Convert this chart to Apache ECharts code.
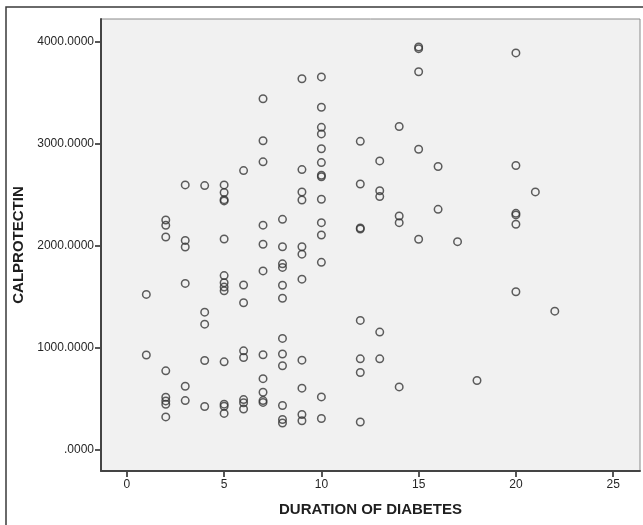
<!DOCTYPE html>
<html>
<head>
<meta charset="utf-8">
<script src="https://cdn.jsdelivr.net/npm/echarts@6/dist/echarts.min.js"></script>
<style>
html,body{margin:0;padding:0;background:#fff;}
#chart{width:643px;height:525px;}
</style>
</head>
<body>
<div id="chart"></div>
<script>
// Duration of diabetes (years) and the calprotectin values observed at each duration
const durationYears = [1, 2, 3, 4, 5, 6, 7, 8, 9, 10, 12, 13, 14, 15, 16, 17, 18, 20, 21, 22];
const calprotectinByDuration = [
  [1520, 925],
  [2250, 2198, 2084, 770, 511, 475, 442, 318],
  [2595, 2050, 1985, 1628, 619, 478],
  [2588, 1346, 1228, 872, 420],
  [2595, 2520, 2450, 2438, 2064, 1705, 1635, 1592, 1555, 858, 443, 423, 352],
  [2735, 1612, 1438, 966, 901, 488, 457, 396],
  [3440, 3028, 2821, 2200, 2012, 1751, 928, 693, 560, 478, 460],
  [2257, 1988, 1820, 1785, 1610, 1482, 1088, 935, 820, 430, 292, 258],
  [3637, 2745, 2525, 2447, 1988, 1915, 1670, 875, 600, 342, 280],
  [3655, 3357, 3160, 3095, 2950, 2814, 2690, 2675, 2454, 2224, 2103, 1835, 514, 302],
  [3022, 2604, 2172, 2162, 1265, 888, 754, 268],
  [2830, 2537, 2480, 1150, 888],
  [3168, 2290, 2224, 612],
  [3948, 3932, 3705, 2945, 2061],
  [2775, 2355],
  [2038],
  [675],
  [3890, 2785, 2316, 2300, 2209, 1546],
  [2526],
  [1356]
];
const xTickValues = [0, 5, 10, 15, 20, 25];
const yTickValues = [0, 1000, 2000, 3000, 4000];
const yTickLabels = ['.0000', '1000.0000', '2000.0000', '3000.0000', '4000.0000'];
const xTitle = 'DURATION OF DIABETES';
const yTitle = 'CALPROTECTIN';

const points = [];
durationYears.forEach((d, i) => {
  calprotectinByDuration[i].forEach(v => points.push([d, v]));
});

const chart = echarts.init(document.getElementById('chart'), null, {renderer: 'canvas'});
const labelFont = {fontFamily: 'Liberation Sans, Arial, sans-serif', fontSize: 12, color: '#262626'};
chart.setOption({
  animation: false,
  backgroundColor: '#ffffff',
  graphic: [{
    type: 'polyline',
    shape: {points: [[6, 525], [6, 7], [643, 7]]},
    style: {stroke: '#3a3a3a', lineWidth: 1.5, fill: null},
    silent: true
  }],
  grid: {
    left: 101, right: 3, top: 19, bottom: 54,
    show: true, backgroundColor: '#f1f1f1', borderColor: '#8a8a8a', borderWidth: 1
  },
  xAxis: {
    type: 'value',
    min: -1.33, max: 26.38,
    name: xTitle, nameLocation: 'middle', nameGap: 31,
    nameTextStyle: {fontFamily: 'Liberation Sans, Arial, sans-serif', fontSize: 15, fontWeight: 'bold', color: '#1e1e1e'},
    axisLine: {show: true, onZero: false, lineStyle: {color: '#444444', width: 2}},
    axisTick: {show: true, customValues: xTickValues, length: 6, lineStyle: {color: '#444444', width: 1.8}},
    axisLabel: Object.assign({customValues: xTickValues, margin: 8, formatter: v => String(v)}, labelFont),
    splitLine: {show: false}
  },
  yAxis: {
    type: 'value',
    min: -213, max: 4223,
    name: yTitle, nameLocation: 'middle', nameGap: 72, nameRotate: 90,
    nameTextStyle: {fontFamily: 'Liberation Sans, Arial, sans-serif', fontSize: 15, fontWeight: 'bold', color: '#1e1e1e'},
    axisLine: {show: true, onZero: false, lineStyle: {color: '#444444', width: 2}},
    axisTick: {show: true, customValues: yTickValues, length: 6, lineStyle: {color: '#444444', width: 1.8}},
    axisLabel: Object.assign({
      customValues: yTickValues, margin: 7,
      formatter: v => yTickLabels[yTickValues.indexOf(v)] ?? ''
    }, labelFont),
    splitLine: {show: false}
  },
  series: [{
    type: 'scatter',
    data: points,
    symbol: 'circle',
    symbolSize: 7.5,
    itemStyle: {color: 'rgba(0,0,0,0)', borderColor: '#363636', borderWidth: 1.5},
    emphasis: {disabled: true}
  }]
});
</script>
</body>
</html>
